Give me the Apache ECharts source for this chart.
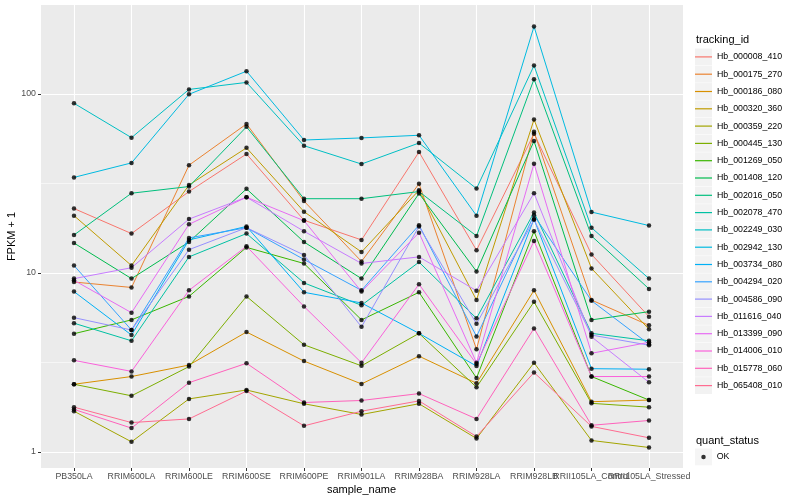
<!DOCTYPE html>
<html><head><meta charset="utf-8">
<script src="https://cdn.jsdelivr.net/npm/echarts@6/dist/echarts.min.js"></script>
<style>html,body{margin:0;padding:0;background:#fff}#c{width:800px;height:500px}</style>
</head><body><div id="c"></div>
<script>
const categories = ['PB350LA','RRIM600LA','RRIM600LE','RRIM600SE','RRIM600PE','RRIM901LA','RRIM928BA','RRIM928LA','RRIM928LB','RRII105LA_Control','RRII105LA_Stressed'];

// FPKM + 1 per sample (same order as categories)
const Hb_000008_410 = [22.9, 16.6, 28.5, 46.2, 19.7, 15.3, 47.4, 13.4, 60, 12.7, 5.7];
const Hb_000175_270 = [8.9, 8.3, 40, 68, 25.2, 11.6, 31.5, 3.75, 61.5, 7.06, 5.1];
const Hb_000186_080 = [2.39, 2.64, 3.06, 4.68, 3.22, 2.4, 3.43, 2.42, 8.0, 1.91, 1.95];
const Hb_000320_360 = [20.9, 11, 31, 50, 22, 13.1, 29, 7.06, 72, 10.6, 4.85];
const Hb_000359_220 = [1.69, 1.14, 1.98, 2.22, 1.86, 1.62, 1.86, 1.19, 3.15, 1.16, 1.06];
const Hb_000445_130 = [2.39, 2.06, 3.0, 7.4, 3.97, 3.03, 4.6, 2.3, 6.9, 1.87, 1.78];
const Hb_001269_050 = [4.58, 5.47, 7.4, 13.9, 11.3, 5.47, 7.8, 2.59, 17.1, 2.64, 1.95];
const Hb_001408_120 = [14.7, 9.3, 14.9, 29.5, 14.9, 9.3, 27.8, 10.2, 54.6, 5.47, 6.08];
const Hb_002016_050 = [16.3, 27.9, 30.4, 65.5, 26, 26, 28.5, 16.1, 121, 16.1, 8.15];
const Hb_002078_470 = [5.24, 4.18, 12.3, 16.6, 8.8, 6.6, 11.5, 5.58, 21.8, 4.6, 4.18];
const Hb_002249_030 = [88.7, 57, 106, 116, 51.4, 40.6, 53.2, 29.6, 144, 17.9, 9.3];
const Hb_002942_130 = [34.2, 41.2, 99.6, 134, 55.3, 56.8, 58.8, 20.9, 238, 21.9, 18.4];
const Hb_003734_080 = [7.87, 4.5, 15.3, 18.2, 7.8, 6.8, 4.6, 3.02, 20, 2.92, 2.9];
const Hb_004294_020 = [11, 4.8, 15.7, 17.9, 11.9, 8.0, 18.5, 4.42, 21, 7.0, 4.0];
const Hb_004586_090 = [5.63, 4.8, 13.5, 17.9, 12.6, 5.0, 18.2, 5.2, 19.8, 4.5, 3.95];
const Hb_011616_040 = [9.3, 10.7, 20, 26.5, 17.1, 11.3, 12.3, 7.96, 27.9, 4.4, 2.45];
const Hb_013399_090 = [9.1, 6.0, 18.7, 26.5, 19.6, 7.87, 16.8, 3.15, 40.8, 3.56, 4.1];
const Hb_014006_010 = [3.25, 2.82, 8.0, 14.1, 6.5, 3.15, 8.65, 3.1, 15.1, 2.64, 2.64];
const Hb_015778_060 = [1.73, 1.36, 2.44, 3.13, 1.89, 1.94, 2.12, 1.53, 4.9, 1.41, 1.5];
const Hb_065408_010 = [1.78, 1.46, 1.53, 2.19, 1.4, 1.69, 1.93, 1.22, 2.78, 1.39, 1.2];

const trackingIds = ['Hb_000008_410','Hb_000175_270','Hb_000186_080','Hb_000320_360','Hb_000359_220','Hb_000445_130','Hb_001269_050','Hb_001408_120','Hb_002016_050','Hb_002078_470','Hb_002249_030','Hb_002942_130','Hb_003734_080','Hb_004294_020','Hb_004586_090','Hb_011616_040','Hb_013399_090','Hb_014006_010','Hb_015778_060','Hb_065408_010'];
const seriesValues = [Hb_000008_410,Hb_000175_270,Hb_000186_080,Hb_000320_360,Hb_000359_220,Hb_000445_130,Hb_001269_050,Hb_001408_120,Hb_002016_050,Hb_002078_470,Hb_002249_030,Hb_002942_130,Hb_003734_080,Hb_004294_020,Hb_004586_090,Hb_011616_040,Hb_013399_090,Hb_014006_010,Hb_015778_060,Hb_065408_010];
const quantStatus = ['OK'];

const palette = ['#F8766D','#EA8331','#D89000','#C09B00','#A3A500','#7CAE00','#39B600','#00BB4E','#00BF7D','#00C1A3','#00BFC4','#00BAE0','#00B0F6','#35A2FF','#9590FF','#C77CFF','#E76BF3','#FA62DB','#FF62BC','#FF6C91'];

const FONT = 'Liberation Sans';
const yMin = 0.814, yMax = 314;

const lineSeries = trackingIds.map((id, i) => ({
  name: id, type: 'line', xAxisIndex: 1, yAxisIndex: 2,
  data: seriesValues[i], showSymbol: false, symbol: 'none',
  lineStyle: { color: palette[i], width: 1 }, itemStyle: { color: palette[i] },
  z: 2, silent: true
}));
const pointData = [];
seriesValues.forEach(vals => vals.forEach((v, j) => pointData.push([categories[j], v])));

const chart = echarts.init(document.getElementById('c'), null, { renderer: 'canvas' });
chart.setOption({
  animation: false,
  textStyle: { fontFamily: FONT },
  grid: [
    { left: 41, right: 117, top: 5, bottom: 32, show: true, backgroundColor: '#EBEBEB', borderWidth: 0, outerBoundsMode: 'none' },
    { left: 74, right: 151, top: 5, bottom: 32, outerBoundsMode: 'none' }
  ],
  xAxis: [
    { gridIndex: 0, type: 'value', show: false, min: 0, max: 1 },
    { gridIndex: 1, type: 'category', data: categories, boundaryGap: false,
      axisLine: { show: false },
      axisTick: { show: true, length: 3, lineStyle: { color: '#333333', width: 1 } },
      axisLabel: { interval: 0, color: '#4D4D4D', fontSize: 8.8, fontFamily: FONT, margin: 4 },
      splitLine: { show: true, lineStyle: { color: '#FFFFFF', width: 1.1 } },
      name: 'sample_name', nameLocation: 'middle', nameGap: 16, nameMoveOverlap: false,
      nameTextStyle: { color: '#000', fontSize: 11, fontFamily: FONT } }
  ],
  yAxis: [
    { gridIndex: 0, type: 'log', logBase: 10, min: yMin, max: yMax,
      axisLine: { show: false },
      axisTick: { show: true, length: 3, lineStyle: { color: '#333333', width: 1 } },
      axisLabel: { color: '#4D4D4D', fontSize: 8.8, fontFamily: FONT, margin: 5, showMinLabel: false, showMaxLabel: false },
      splitLine: { show: true, showMinLine: false, showMaxLine: false, lineStyle: { color: '#FFFFFF', width: 1.1 } },
      name: 'FPKM + 1', nameLocation: 'middle', nameGap: 23.5, nameMoveOverlap: false,
      nameTextStyle: { color: '#000', fontSize: 11, fontFamily: FONT } },
    { gridIndex: 0, type: 'log', logBase: Math.sqrt(10), min: yMin, max: yMax, position: 'left',
      axisLine: { show: false }, axisTick: { show: false }, axisLabel: { show: false },
      splitLine: { show: true, showMinLine: false, showMaxLine: false, lineStyle: { color: '#FFFFFF', width: 0.55 } } },
    { gridIndex: 1, type: 'log', logBase: 10, min: yMin, max: yMax, show: false }
  ],
  title: [
    { text: 'tracking_id', left: 696, top: 34, padding: 0, textStyle: { fontSize: 11, fontWeight: 'normal', color: '#000', fontFamily: FONT } },
    { text: 'quant_status', left: 696, top: 435, padding: 0, textStyle: { fontSize: 11, fontWeight: 'normal', color: '#000', fontFamily: FONT } }
  ],
  legend: [
    { data: trackingIds.slice(), orient: 'vertical', left: 695, top: 48.5, padding: 0, itemGap: 0.5,
      itemWidth: 17, itemHeight: 16.8, icon: 'rect', selectedMode: false,
      itemStyle: { color: '#F2F2F2', borderWidth: 0 },
      textStyle: { color: 'rgba(0,0,0,0)', fontSize: 8.8, lineHeight: 16.8, fontFamily: FONT } },
    { data: trackingIds.map((n, i) => ({ name: n, itemStyle: { color: palette[i] } })), orient: 'vertical', left: 695, top: 48.5, padding: 0, itemGap: 0.5,
      itemWidth: 17, itemHeight: 1.2, icon: 'rect', selectedMode: false,
      textStyle: { color: '#000', fontSize: 8.8, lineHeight: 16.8, fontFamily: FONT } },
    { data: quantStatus.map(n => ({ name: n, icon: 'rect', itemStyle: { color: '#F2F2F2', borderWidth: 0 } })), orient: 'vertical', left: 695, top: 448.5, padding: 0,
      itemWidth: 17, itemHeight: 16.8, icon: 'rect', selectedMode: false,
      itemStyle: { color: '#F2F2F2', borderWidth: 0 },
      textStyle: { color: 'rgba(0,0,0,0)', fontSize: 8.8, lineHeight: 16.8, fontFamily: FONT } },
    { data: quantStatus.map(n => ({ name: n, icon: 'circle', itemStyle: { color: '#000', borderWidth: 0 } })), orient: 'vertical', left: 701.25, top: 448.5, padding: 0,
      itemWidth: 4.5, itemHeight: 4.5, icon: 'circle', selectedMode: false,
      itemStyle: { color: '#000', borderWidth: 0 },
      textStyle: { color: '#000', fontSize: 8.8, lineHeight: 16.8, fontFamily: FONT, padding: [0, 0, 0, 6] } }
  ],
  series: lineSeries.concat([{
    name: quantStatus[0], type: 'scatter', xAxisIndex: 1, yAxisIndex: 2,
    data: pointData, symbol: 'circle', symbolSize: 4.5,
    itemStyle: { color: '#000' }, z: 3, silent: true
  }])
});
</script>
</body></html>
